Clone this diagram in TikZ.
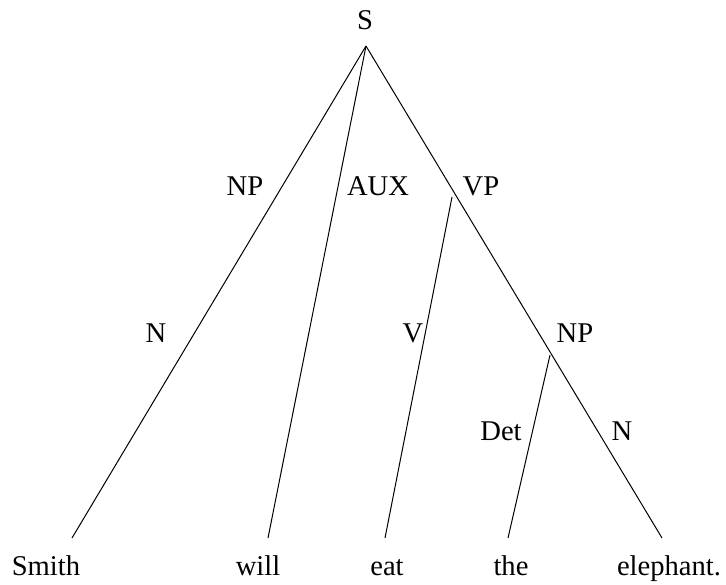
\documentclass[tikz,border=0pt]{standalone}
\usepackage{fontspec}
\setmainfont{Liberation Serif}
\usetikzlibrary{positioning}

\begin{document}
\begin{tikzpicture}[x=0.5pt,y=-0.5pt,line width=0.5pt,
    every node/.style={anchor=base,inner sep=0pt,font=\fontsize{14.3}{16}\selectfont}]
    \useasboundingbox (0,0) rectangle (726,584);

    % category labels
    \node (s) at (365,29) {S};
    \node (np1) at (245,195) {NP};
    \node (aux) at (378,195) {AUX};
    \node (vp) at (481,195) {VP};
    \node (n1) at (156,342) {N};
    \node (v) at (413,342) {V};
    \node (np2) at (575,342) {NP};
    \node (det) at (501,440) {Det};
    \node (n2) at (622,440) {N};

    % the sentence
    \node (smith) at (46,575) {Smith};
    \node (will) at (258,575) {will};
    \node (eat) at (387,575) {eat};
    \node (the) at (511,575) {the};
    \node (eleph) at (669,575) {elephant.};

    % branch points and leaf ends
    \coordinate (top) at (366,46);
    \coordinate (vpfork) at (452,197);
    \coordinate (npfork) at (550,355);
    \coordinate (smithend) at (72,538);
    \coordinate (willend) at (268,538);
    \coordinate (eatend) at (385,538);
    \coordinate (theend) at (508,538);
    \coordinate (elephend) at (662,538);

    \draw (top) to (smithend);
    \draw (top) to (willend);
    \draw (top) to (elephend);
    \draw (vpfork) to (eatend);
    \draw (npfork) to (theend);
\end{tikzpicture}
\end{document}
